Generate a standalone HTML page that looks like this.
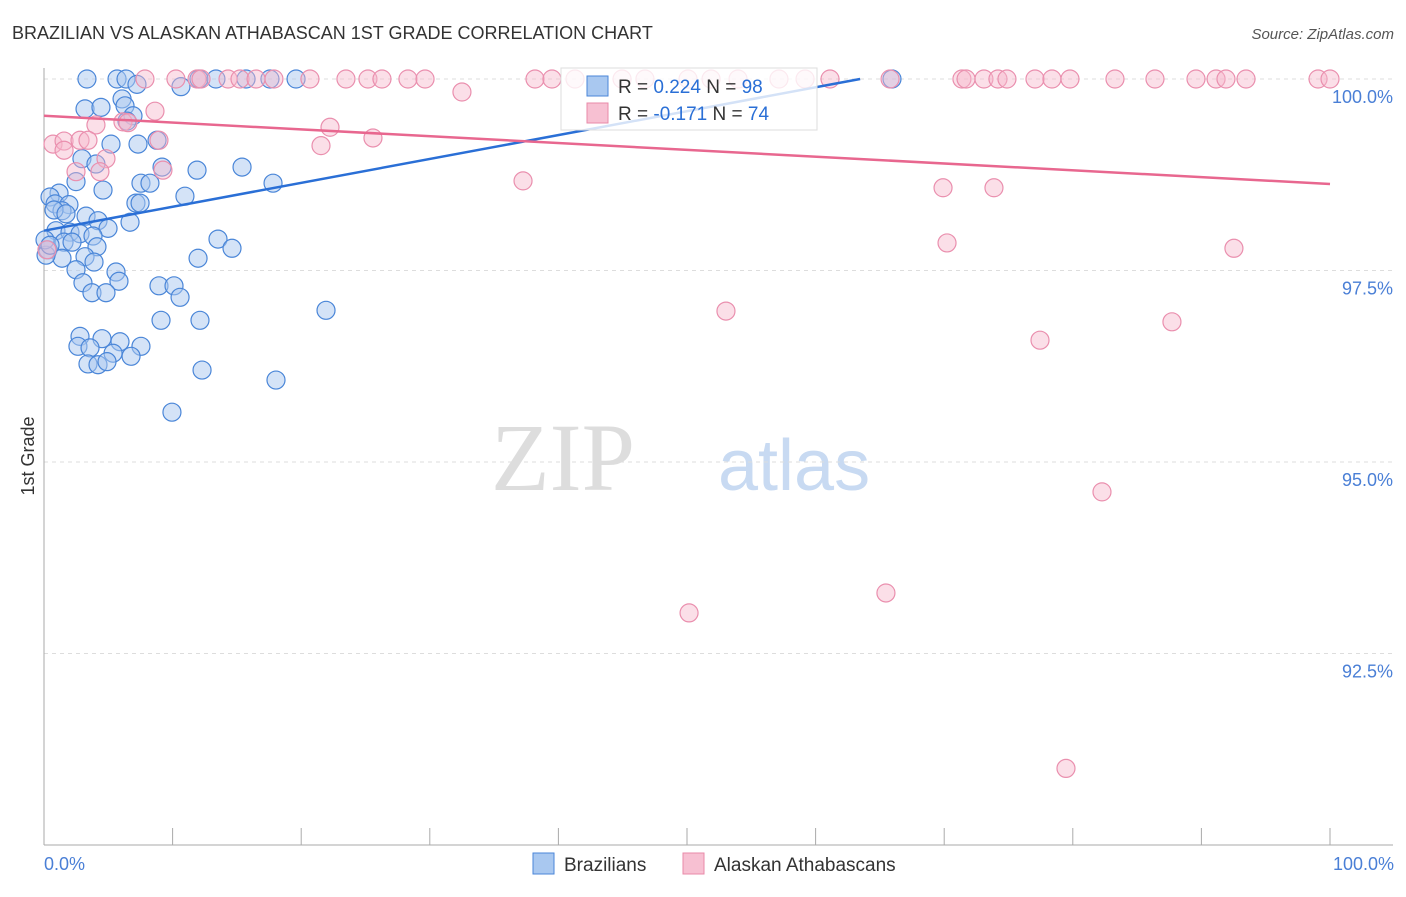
<!DOCTYPE html>
<html><head><meta charset="utf-8"><style>
body{margin:0;background:#fff;font-family:"Liberation Sans",sans-serif}
</style></head><body>
<svg width="1406" height="892" xmlns="http://www.w3.org/2000/svg">
<text x="12" y="39" font-size="18" fill="#333">BRAZILIAN VS ALASKAN ATHABASCAN 1ST GRADE CORRELATION CHART</text>
<text x="1394" y="39" font-size="15" fill="#555" text-anchor="end" font-style="italic">Source: ZipAtlas.com</text>
<text x="635" y="490" font-size="96" fill="#ddd" text-anchor="end" font-family="Liberation Serif,serif">ZIP</text>
<text x="718" y="490" font-size="72" fill="#c8daf2">atlas</text>
<g id="grid"></g><g id="axes"></g><g id="pts"></g><g id="lines"></g>
<text transform="translate(34,456) rotate(-90)" font-size="18" fill="#333" text-anchor="middle">1st Grade</text>
<text x="44" y="870" font-size="18" fill="#4a7fd6">0.0%</text>
<text x="1394" y="870" font-size="18" fill="#4a7fd6" text-anchor="end">100.0%</text>
<g>
<rect x="561" y="68" width="256" height="62" fill="#fff" fill-opacity="0.8" stroke="#ddd"/>
<rect x="587" y="76" width="21" height="20" fill="#a9c8f0" stroke="#4a86d8"/>
<text x="618" y="93" font-size="19" fill="#333">R = <tspan fill="#2a6fd6">0.224</tspan>   N = <tspan fill="#2a6fd6">98</tspan></text>
<rect x="587" y="103" width="21" height="20" fill="#f7c0d2" stroke="#e88aa8"/>
<text x="618" y="120" font-size="19" fill="#333">R = <tspan fill="#2a6fd6">-0.171</tspan>   N = <tspan fill="#2a6fd6">74</tspan></text>
</g>
<g>
<rect x="533" y="853" width="21" height="21" fill="#a9c8f0" stroke="#4a86d8"/>
<text x="564" y="871" font-size="19" fill="#333">Brazilians</text>
<rect x="683" y="853" width="21" height="21" fill="#f7c0d2" stroke="#e88aa8"/>
<text x="714" y="871" font-size="19" fill="#333">Alaskan Athabascans</text>
</g>
</svg>
<script>
const yTicks=[100,97.5,95,92.5];
const yTickLabels=["100.0%","97.5%","95.0%","92.5%"];
const blueX=[3.34,5.68,6.38,12.05,13.37,15.71,17.57,19.6,65.94,10.65,7.23,3.19,4.43,6.07,6.3,6.92,6.45,8.79,5.21,7.31,2.95,4.04,9.18,11.9,15.4,2.49,7.54,8.24,17.81,4.59,1.17,7.15,7.47,10.96,0.47,0.86,1.94,1.4,3.27,4.2,6.69,4.98,0.93,2.02,2.8,3.81,13.53,14.62,1.56,2.18,4.12,0.31,1.4,3.19,3.89,11.98,2.49,5.6,5.83,3.03,8.94,10.11,3.73,4.82,10.58,9.1,12.13,21.93,2.8,4.51,5.91,2.64,3.58,7.54,5.37,6.77,3.42,4.2,4.9,12.29,18.04,9.95,0.16,0.78,1.71,0.08,0.47];
const blueY=[100,100,100,100,100,100,100,100,100,99.9,99.93,99.61,99.63,99.74,99.65,99.52,99.45,99.2,99.15,99.15,98.96,98.89,98.85,98.81,98.85,98.66,98.64,98.64,98.64,98.55,98.51,98.38,98.38,98.47,98.46,98.37,98.36,98.28,98.21,98.15,98.13,98.05,98.02,98.0,97.98,97.95,97.91,97.79,97.87,97.87,97.81,97.77,97.66,97.68,97.61,97.66,97.51,97.48,97.36,97.34,97.3,97.3,97.21,97.21,97.15,96.85,96.85,96.98,96.64,96.61,96.57,96.51,96.49,96.51,96.42,96.38,96.28,96.27,96.31,96.2,96.07,95.65,97.7,98.29,98.24,97.9,97.83];
const pinkX=[7.85,10.26,11.9,12.21,14.31,15.24,16.49,17.88,20.68,23.48,25.19,26.28,28.3,29.63,38.18,39.5,41.29,44.95,46.73,50.08,51.87,53.97,57.15,59.18,61.12,65.79,71.38,71.7,73.09,74.18,74.88,77.06,78.38,79.78,83.28,86.39,89.58,91.14,91.91,93.47,99.07,100,32.5,8.63,4.04,6.14,22.24,0.7,1.56,2.8,3.42,8.94,25.58,21.54,1.56,4.82,2.49,4.35,9.25,37.25,69.91,73.87,70.22,92.53,53.03,87.71,77.45,82.27,65.47,50.16,79.47,0.23,6.53];
const pinkY=[100,100,100,100,100,100,100,100,100,100,100,100,100,100,100,100,100,100,100,100,100,100,100,100,100,100,100,100,100,100,100,100,100,100,100,100,100,100,100,100,100,100,99.83,99.58,99.4,99.44,99.37,99.15,99.19,99.2,99.2,99.2,99.23,99.13,99.07,98.96,98.79,98.79,98.81,98.67,98.58,98.58,97.86,97.79,96.97,96.83,96.59,94.61,93.29,93.03,91.0,97.77,99.43];
const blueTrend=[98.02,0.0312];
const pinkTrend=[99.52,-0.0089];
const X0=44,X1=1330,YTOP=79,PX_PER=76.6;
const sx=v=>X0+(X1-X0)*v/100;
const sy=v=>YTOP+(100-v)*PX_PER;
const NS="http://www.w3.org/2000/svg";
function mk(tag,attrs,parent){const e=document.createElementNS(NS,tag);for(const k in attrs)e.setAttribute(k,attrs[k]);document.getElementById(parent).appendChild(e);return e;}
yTicks.forEach((t,i)=>{
 const g=mk('line',{x1:44,x2:1393,y1:sy(t),y2:sy(t),stroke:'#ddd','stroke-dasharray':'4,4'},'grid');
 
 
 const l=mk('text',{x:1393,y:sy(t)+24,'font-size':18,fill:'#4a7fd6','text-anchor':'end'},'grid');
 l.textContent=yTickLabels[i];
 
 
});
const ax=mk('line',{x1:44,x2:44,y1:68,y2:845,stroke:'#aaa'},'axes');


const bx=mk('line',{x1:44,x2:1393,y1:845,y2:845,stroke:'#aaa'},'axes');


for(let k=0;k<=10;k++){const t=mk('line',{x1:sx(k*10),x2:sx(k*10),y1:828,y2:845,stroke:'#aaa'},'axes');
 
 }
blueX.forEach((x,i)=>{const c=mk('circle',{cx:sx(x),cy:sy(blueY[i]),r:9,fill:'#a9c8f0','fill-opacity':0.5,stroke:'#4a86d8','stroke-width':1.2},'pts');
 
 });
pinkX.forEach((x,i)=>{const c=mk('circle',{cx:sx(x),cy:sy(pinkY[i]),r:9,fill:'#f7b8cc','fill-opacity':0.45,stroke:'#ea8fae','stroke-width':1.2},'pts');
 
 });
const bEnd=(100-blueTrend[0])/blueTrend[1];
const bl=mk('line',{x1:sx(0),y1:sy(blueTrend[0]),x2:sx(bEnd),y2:sy(100),stroke:'#2a6fd6','stroke-width':2.5},'lines');


const pl=mk('line',{x1:sx(0),y1:sy(pinkTrend[0]),x2:sx(100),y2:sy(pinkTrend[0]+pinkTrend[1]*100),stroke:'#e8678f','stroke-width':2.5},'lines');


</script>
</body></html>
